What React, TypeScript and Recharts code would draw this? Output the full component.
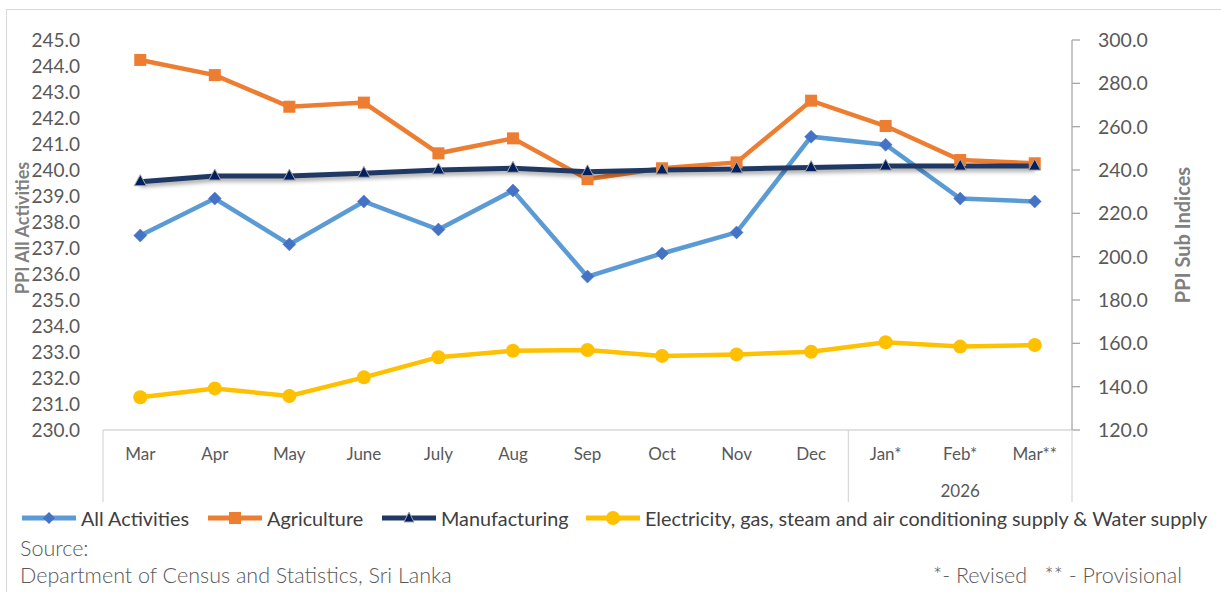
import React from 'react';
import { LineChart, Line, XAxis, YAxis } from 'recharts';

const categories = ['Mar', 'Apr', 'May', 'June', 'July', 'Aug', 'Sep', 'Oct', 'Nov', 'Dec', 'Jan*', 'Feb*', 'Mar**'];
const allActivities = [237.48, 238.9, 237.14, 238.79, 237.71, 239.21, 235.9, 236.79, 237.6, 241.28, 240.97, 238.9, 238.79];
const agriculture = [290.8, 283.8, 269.2, 271.1, 247.7, 254.6, 235.8, 240.8, 243.5, 272.0, 260.3, 244.6, 243.1];
const manufacturing = [234.6, 237.2, 237.2, 238.5, 240.0, 240.8, 239.2, 240.0, 240.5, 241.1, 241.8, 241.8, 241.8];
const electricity = [135.1, 139.2, 135.7, 144.3, 153.6, 156.6, 156.9, 154.2, 154.9, 156.1, 160.5, 158.5, 159.2];
const leftTicks = [230, 231, 232, 233, 234, 235, 236, 237, 238, 239, 240, 241, 242, 243, 244, 245];
const rightTicks = [120, 140, 160, 180, 200, 220, 240, 260, 280, 300];
const yearLabel = '2026';
const yearStartIndex = 10;
const seriesNames = [
  'All Activities',
  'Agriculture',
  'Manufacturing',
  'Electricity, gas, steam and air conditioning supply & Water supply',
];
const sourceTitle = 'Source:';
const sourceText = 'Department of Census and Statistics, Sri Lanka';
const noteText = '*- Revised   ** - Provisional';

const data = categories.map((c, i) => ({
  cat: c,
  all: allActivities[i],
  agri: agriculture[i],
  mfg: manufacturing[i],
  elec: electricity[i],
}));

const FONT = 'Lato, "Open Sans", sans-serif';
const C_ALL = '#5B9BD5';
const C_ALL_M = '#4472C4';
const C_AGRI = '#ED7D31';
const C_MFG = '#203864';
const C_MFG_M = '#002060';
const C_ELEC = '#FFC000';

const PLOT_LEFT = 103;
const PLOT_RIGHT = 1072;
const BAND = (PLOT_RIGHT - PLOT_LEFT) / categories.length;

const Diamond = (p: any) => {
  const { cx, cy } = p;
  if (cx == null || cy == null) return <g key={p.key} />;
  const s = 6.5;
  return (
    <polygon
      key={`dia-${p.index}`}
      points={`${cx},${cy - s} ${cx + s},${cy} ${cx},${cy + s} ${cx - s},${cy}`}
      fill={C_ALL_M}
      stroke={C_ALL_M}
      strokeWidth={0.5}
    />
  );
};
const Square = (p: any) => {
  const { cx, cy } = p;
  if (cx == null || cy == null) return <g key={p.key} />;
  const s = 6;
  return <rect key={`sq-${p.index}`} x={cx - s} y={cy - s} width={2 * s} height={2 * s} fill={C_AGRI} />;
};
const Triangle = (p: any) => {
  const { cx, cy } = p;
  if (cx == null || cy == null) return <g key={p.key} />;
  return (
    <polygon
      key={`tri-${p.index}`}
      points={`${cx},${cy - 7} ${cx + 6},${cy + 4} ${cx - 6},${cy + 4}`}
      fill={C_MFG_M}
      stroke="#a6a6a6"
      strokeWidth={1}
    />
  );
};
const Circle = (p: any) => {
  const { cx, cy } = p;
  if (cx == null || cy == null) return <g key={p.key} />;
  return <circle key={`ci-${p.index}`} cx={cx} cy={cy} r={7} fill={C_ELEC} />;
};

const CatTick = (props: any) => {
  const { x, y, payload, index } = props;
  const lines: React.ReactNode[] = [];
  const sepStroke = '#d9d9d9';
  if (index === 0) {
    lines.push(<line key="l0" x1={x - BAND / 2} x2={x - BAND / 2} y1={y} y2={y + 72} stroke={sepStroke} strokeWidth={1.3} />);
  }
  if (index === yearStartIndex) {
    lines.push(<line key="l1" x1={x - BAND / 2} x2={x - BAND / 2} y1={y} y2={y + 72} stroke={sepStroke} strokeWidth={1.3} />);
  }
  if (index === categories.length - 1) {
    lines.push(<line key="l2" x1={x + BAND / 2} x2={x + BAND / 2} y1={y} y2={y + 72} stroke={sepStroke} strokeWidth={1.3} />);
  }
  const midIndex = Math.round((yearStartIndex + categories.length - 1) / 2);
  return (
    <g>
      {lines}
      <text x={x} y={y + 30} textAnchor="middle" fill="#595959" fontSize={17} fontFamily={FONT}>
        {payload.value}
      </text>
      {index === midIndex && (
        <text x={x} y={y + 67} textAnchor="middle" fill="#595959" fontSize={17} fontFamily={FONT}>
          {yearLabel}
        </text>
      )}
    </g>
  );
};

const LegendIcon = ({ color, marker }: { color: string; marker: string }) => (
  <svg width={58} height={16} style={{ display: 'block' }}>
    <line x1={2} x2={56} y1={8} y2={8} stroke={color} strokeWidth={5} />
    {marker === 'diamond' && <polygon points="29,2 35,8 29,14 23,8" fill={C_ALL_M} />}
    {marker === 'square' && <rect x={23} y={2} width={12} height={12} fill={C_AGRI} />}
    {marker === 'triangle' && <polygon points="29,2 34,12 24,12" fill={C_MFG_M} stroke="#a6a6a6" strokeWidth={1} />}
    {marker === 'circle' && <circle cx={29} cy={8} r={7} fill={C_ELEC} />}
  </svg>
);

export default function App() {
  const legendItems = [
    { name: seriesNames[0], color: C_ALL, marker: 'diamond', left: 20 },
    { name: seriesNames[1], color: C_AGRI, marker: 'square', left: 206 },
    { name: seriesNames[2], color: C_MFG, marker: 'triangle', left: 380 },
    { name: seriesNames[3], color: C_ELEC, marker: 'circle', left: 584 },
  ];
  return (
    <div
      style={{
        position: 'absolute',
        left: 0,
        top: 0,
        width: 1221,
        height: 592,
        background: '#fff',
        overflow: 'hidden',
        fontFamily: FONT,
      }}
    >
      <style>{`.mfg-line .recharts-line-curve { filter: drop-shadow(0px 3px 2px rgba(0,0,0,0.35)); }`}</style>
      <div
        style={{
          position: 'absolute',
          left: 6,
          top: 9,
          width: 1240,
          height: 600,
          borderLeft: '1.5px solid #d9d9d9',
          borderTop: '1.5px solid #d9d9d9',
        }}
      />
      <div style={{ position: 'absolute', left: 0, top: 0 }}>
        <LineChart width={1221} height={592} data={data} margin={{ top: 40, right: 0, bottom: 90, left: 0 }}>
          <XAxis
            dataKey="cat"
            xAxisId="x"
            height={72}
            padding={{ left: BAND / 2, right: BAND / 2 }}
            axisLine={{ stroke: '#d9d9d9', strokeWidth: 1.5 }}
            tickLine={false}
            tickSize={0}
            tickMargin={0}
            interval={0}
            tick={<CatTick />}
          />
          <YAxis
            yAxisId="left"
            orientation="left"
            width={PLOT_LEFT}
            domain={[230, 245]}
            ticks={leftTicks}
            interval={0}
            axisLine={false}
            tickLine={false}
            tickSize={0}
            tickMargin={23}
            tickFormatter={(v: number) => v.toFixed(1)}
            tick={{ fill: '#595959', fontSize: 19, fontFamily: FONT }}
            label={{
              value: 'PPI All Activities',
              angle: -90,
              position: 'center',
              dx: -29,
              dy: -7,
              fill: '#808080',
              fontSize: 18,
              fontWeight: 700,
              fontFamily: FONT,
            }}
          />
          <YAxis
            yAxisId="right"
            orientation="right"
            width={1221 - PLOT_RIGHT}
            domain={[120, 300]}
            ticks={rightTicks}
            interval={0}
            axisLine={{ stroke: '#a6a6a6', strokeWidth: 1.3 }}
            tickLine={{ stroke: '#a6a6a6', strokeWidth: 1.3 }}
            tickSize={8}
            tickMargin={18}
            tickFormatter={(v: number) => v.toFixed(1)}
            tick={{ fill: '#595959', fontSize: 19.5, fontFamily: FONT }}
            label={{
              value: 'PPI Sub Indices',
              angle: -90,
              position: 'center',
              dx: 36,
              fill: '#808080',
              fontSize: 20,
              fontWeight: 700,
              fontFamily: FONT,
            }}
          />
          <Line
            xAxisId="x"
            yAxisId="left"
            dataKey="all"
            name={seriesNames[0]}
            stroke={C_ALL}
            strokeWidth={4.5}
            dot={Diamond}
            activeDot={false}
            isAnimationActive={false}
          />
          <Line
            xAxisId="x"
            yAxisId="right"
            dataKey="agri"
            name={seriesNames[1]}
            stroke={C_AGRI}
            strokeWidth={4.5}
            dot={Square}
            activeDot={false}
            isAnimationActive={false}
          />
          <Line
            xAxisId="x"
            yAxisId="right"
            dataKey="mfg"
            name={seriesNames[2]}
            stroke={C_MFG}
            strokeWidth={5}
            dot={Triangle}
            activeDot={false}
            className="mfg-line"
            isAnimationActive={false}
          />
          <Line
            xAxisId="x"
            yAxisId="right"
            dataKey="elec"
            name={seriesNames[3]}
            stroke={C_ELEC}
            strokeWidth={4.5}
            dot={Circle}
            activeDot={false}
            isAnimationActive={false}
          />
        </LineChart>
      </div>
      {legendItems.map((it) => (
        <div
          key={it.name}
          style={{
            position: 'absolute',
            left: it.left,
            top: 507,
            display: 'flex',
            alignItems: 'center',
            gap: 3,
            whiteSpace: 'nowrap',
            fontSize: 19.8,
            color: '#404040',
            lineHeight: '22px',
          }}
        >
          <LegendIcon color={it.color} marker={it.marker} />
          <span>{it.name}</span>
        </div>
      ))}
      <div style={{ position: 'absolute', left: 20, top: 535, fontSize: 21.5, color: '#595959', fontWeight: 300, whiteSpace: 'nowrap' }}>
        {sourceTitle}
      </div>
      <div style={{ position: 'absolute', left: 20, top: 562, fontSize: 21.5, color: '#595959', fontWeight: 300, whiteSpace: 'nowrap' }}>
        {sourceText}
      </div>
      <div style={{ position: 'absolute', left: 933, top: 562, fontSize: 21.5, color: '#595959', fontWeight: 300, whiteSpace: 'pre' }}>
        {noteText}
      </div>
    </div>
  );
}
